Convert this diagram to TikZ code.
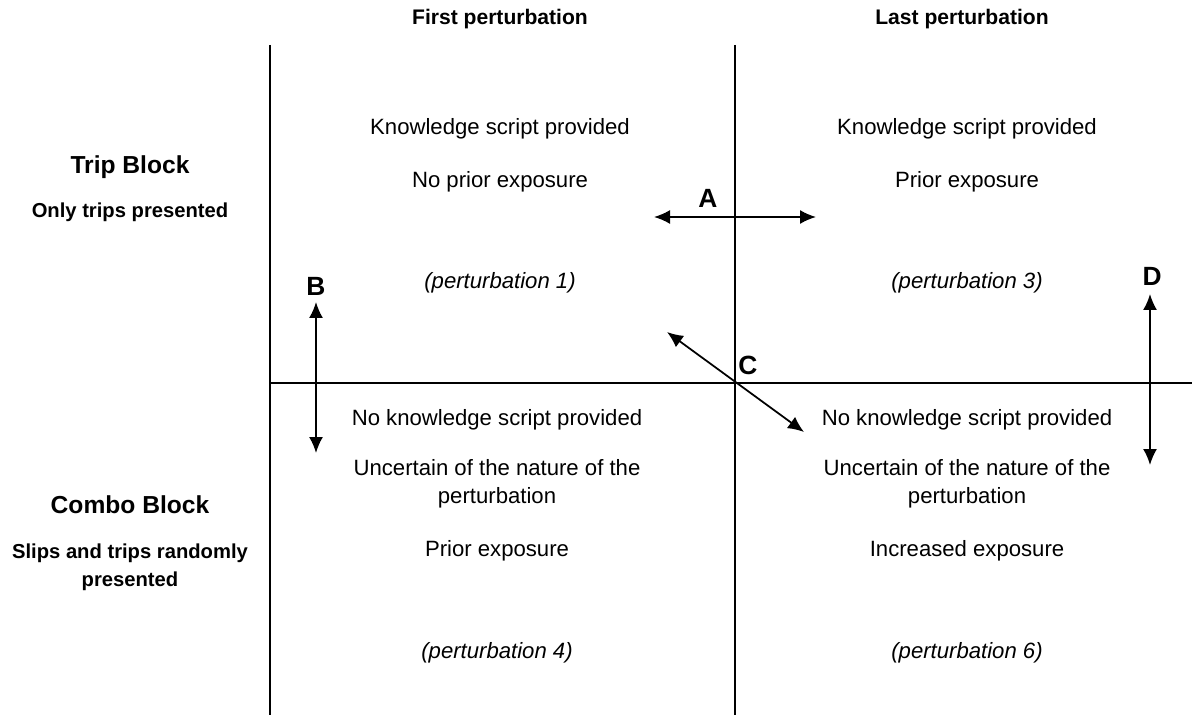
\documentclass[tikz,border=0pt]{standalone}
\usepackage{fontspec}
\setmainfont{Liberation Sans}
\usetikzlibrary{arrows.meta, positioning}

\begin{document}
\begin{tikzpicture}[x=0.02cm, y=-0.02cm,
    gridline/.style={line width=0.6pt},
    headtext/.style={font=\fontsize{12}{14}\selectfont\bfseries},
    blocktitle/.style={font=\fontsize{14}{16}\selectfont\bfseries},
    blocknote/.style={font=\fontsize{11.5}{16}\selectfont\bfseries, align=center},
    celltext/.style={font=\fontsize{12.6}{16}\selectfont, align=center},
    cellnote/.style={font=\fontsize{12.6}{16}\selectfont\itshape},
    marklabel/.style={font=\fontsize{15}{17}\selectfont\bfseries},
    twoway/.style={line width=1pt, {Latex[length=3.2mm,width=2.8mm]}-{Latex[length=3.2mm,width=2.8mm]}}]
  \useasboundingbox (0,0) rectangle (1192,715);
  % grid
  \draw[gridline] (270,45) -- (270,715);
  \draw[gridline] (735,45) -- (735,715);
  \draw[gridline] (270,383) -- (1192,383);
  % column and row headings
  \node[headtext] (firsthead) at (500,19) {First perturbation};
  \node[headtext] (lasthead) at (962,19) {Last perturbation};
  \node[blocktitle] (tripblock) at (130,167) {Trip Block};
  \node[blocknote] (tripnote) at (130,212) {Only trips presented};
  \node[blocktitle] (comboblock) at (130,505) {Combo Block};
  \node[blocknote] (combonote) at (130,567) {Slips and trips randomly\\presented};
  % top left cell
  \node[celltext] (tlscript) at (500,129) {Knowledge script provided};
  \node[celltext] (tlexpo) at (500,182) {No prior exposure};
  \node[cellnote] (tlpert) at (500,283) {(perturbation 1)};
  % top right cell
  \node[celltext] (trscript) at (967,129) {Knowledge script provided};
  \node[celltext] (trexpo) at (967,182) {Prior exposure};
  \node[cellnote] (trpert) at (967,283) {(perturbation 3)};
  % bottom left cell
  \node[celltext] (blscript) at (497,420) {No knowledge script provided};
  \node[celltext] (blnature) at (497,484) {Uncertain of the nature of the\\perturbation};
  \node[celltext] (blexpo) at (497,551) {Prior exposure};
  \node[cellnote] (blpert) at (497,653) {(perturbation 4)};
  % bottom right cell
  \node[celltext] (brscript) at (967,420) {No knowledge script provided};
  \node[celltext] (brnature) at (967,484) {Uncertain of the nature of the\\perturbation};
  \node[celltext] (brexpo) at (967,551) {Increased exposure};
  \node[cellnote] (brpert) at (967,653) {(perturbation 6)};
  % comparison arrows
  \coordinate (aleft) at (654,217);
  \coordinate (aright) at (816,217);
  \coordinate (btop) at (316,302);
  \coordinate (bbottom) at (316,453);
  \coordinate (ctop) at (667,332);
  \coordinate (cbottom) at (804,432);
  \coordinate (dtop) at (1150,294);
  \coordinate (dbottom) at (1150,465);
  \draw[twoway] (aleft) -- (aright);
  \draw[twoway] (btop) -- (bbottom);
  \draw[twoway] (ctop) -- (cbottom);
  \draw[twoway] (dtop) -- (dbottom);
  \node[marklabel] (marka) at (708,198) {A};
  \node[marklabel] (markb) at (316,286) {B};
  \node[marklabel] (markc) at (748,365) {C};
  \node[marklabel] (markd) at (1152,276) {D};
\end{tikzpicture}
\end{document}
